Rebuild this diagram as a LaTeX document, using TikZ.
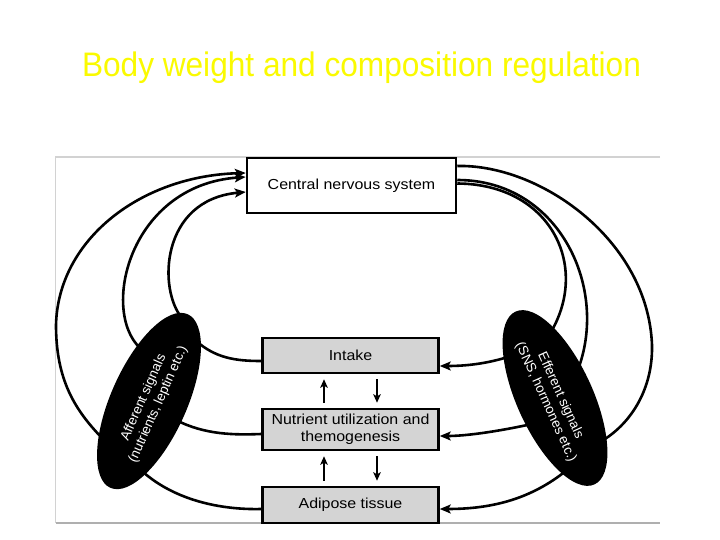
\documentclass[tikz,border=0pt]{standalone}
\usepackage{fontspec}
\setmainfont{Liberation Sans}
\newfontfamily\boxfont{Liberation Sans}[FakeStretch=1.1]
\newfontfamily\titlefont{Liberation Sans}[FakeStretch=0.93]
\usetikzlibrary{arrows.meta,shapes.geometric}
\definecolor{titleyellow}{RGB}{250,250,0}
\definecolor{boxgray}{RGB}{212,212,212}
\definecolor{framegray}{RGB}{210,210,210}
\definecolor{framegraydk}{RGB}{175,175,175}
\begin{document}
\begin{tikzpicture}[x=1pt,y=-1pt,
  sig/.style={line width=2.6pt,black},
  sigarrow/.style={sig,-{Stealth[length=11pt,width=9pt,inset=2.5pt]}},
  smallarrow/.style={line width=2pt,-{Stealth[length=8.5pt,width=7.5pt,inset=2pt]}},
  whitebox/.style={draw,line width=2.5pt,fill=white,minimum width=209pt,minimum height=55pt,inner sep=0pt,font=\boxfont\fontsize{14.5}{17}\selectfont},
  graybox/.style={draw,line width=2.5pt,fill=boxgray,minimum width=176pt,inner sep=0pt,align=center,font=\boxfont\fontsize{14.5}{17}\selectfont},
  blob/.style={ellipse,fill=black,minimum width=190pt,minimum height=76pt,inner sep=0pt},
  blobtext/.style={white,align=center,font=\fontsize{13.5}{16}\selectfont}
]
\useasboundingbox (0,0) rectangle (720,540);
\fill[white] (0,0) rectangle (720,540);

% title
\node[anchor=base,text=titleyellow,font=\titlefont\fontsize{34}{40}\selectfont] (title) at (361.5,77) {Body weight and composition regulation};

% frame
\draw[framegray,line width=1.2pt] (660,157) -- (55.5,157) -- (55.5,523);
\draw[framegraydk,line width=2pt] (55.5,523) -- (660,523);

% nodes
\node[whitebox] (cns) at (351.5,185.5) {Central nervous system};
\node[graybox,minimum height=35pt] (intake) at (350.5,355.5) {Intake};
\node[graybox,minimum height=41pt] (nut) at (350.5,429.5) {Nutrient utilization and\\themogenesis};
\node[graybox,minimum height=36pt] (adi) at (350.5,505) {Adipose tissue};

% named points inside the ellipses
\coordinate (aOut) at (102,438);
\coordinate (aMid) at (140,348);
\coordinate (aIn) at (182,318);
\coordinate (aI) at (195,340);
\coordinate (aN) at (176,420);
\coordinate (aA) at (143,472);
\coordinate (eOut) at (600,442);
\coordinate (eMid) at (577,372);
\coordinate (eIn) at (551,332);
\coordinate (eI) at (508,357);
\coordinate (eN) at (532,424);
\coordinate (eA) at (567,470);

% afferent curves into CNS
\draw[sigarrow] (aOut) .. controls (75,410) and (56,380) .. (56,325)
  .. controls (58,240) and (140,176) .. ([yshift=12.5pt]cns.west);
\draw[sigarrow] (aMid) .. controls (100,310) and (130,185) .. ([yshift=8.5pt]cns.west);
\draw[sigarrow] (aIn) .. controls (158,290) and (160,200) .. ([yshift=-6.5pt]cns.west);

% boxes to afferent ellipse
\draw[sig] (aI) .. controls (215,358) and (235,361) .. ([yshift=-5.5pt]intake.west);
\draw[sig] (aN) .. controls (205,435) and (235,435) .. ([yshift=-4.5pt]nut.west);
\draw[sig] (aA) .. controls (175,500) and (220,510) .. ([yshift=-4pt]adi.west);

% efferent curves from CNS
\draw[sig] ([yshift=19.5pt]cns.east) .. controls (540,164) and (648,240) .. (652,345)
  .. controls (653,390) and (630,425) .. (eOut);
\draw[sig] ([yshift=5.5pt]cns.east) .. controls (560,180) and (610,290) .. (eMid);
\draw[sig] ([yshift=2pt]cns.east) .. controls (550,184) and (590,265) .. (eIn);

% efferent ellipse to boxes
\draw[sigarrow] (eI) .. controls (485,364) and (465,366) .. ([yshift=-10.5pt]intake.east);
\draw[sigarrow] (eN) .. controls (495,432) and (465,436) .. ([yshift=-6.5pt]nut.east);
\draw[sigarrow] (eA) .. controls (530,500) and (490,509) .. ([yshift=-4pt]adi.east);

% ellipses
\node[blob,rotate=66] (aff) at (149,401) {};
\node[blob,rotate=-65.5] (eff) at (555,398) {};
\node[blobtext,rotate=66] (afftext) at (151,401) {Afferent signals\\(nutrients, leptin etc.)};
\node[blobtext,rotate=-65.5] (efftext) at (553,399) {Efferent signals\\(SNS, hormones etc.)};

% arrows between boxes
\draw[smallarrow,shorten <=5pt,shorten >=5pt] ([xshift=-26.5pt]nut.north) -- ([xshift=-26.5pt]intake.south);
\draw[smallarrow,shorten <=5pt,shorten >=5pt] ([xshift=26.5pt]intake.south) -- ([xshift=26.5pt]nut.north);
\draw[smallarrow,shorten <=5pt,shorten >=5pt] ([xshift=-26.5pt]adi.north) -- ([xshift=-26.5pt]nut.south);
\draw[smallarrow,shorten <=5pt,shorten >=5pt] ([xshift=26.5pt]nut.south) -- ([xshift=26.5pt]adi.north);
\end{tikzpicture}
\end{document}
